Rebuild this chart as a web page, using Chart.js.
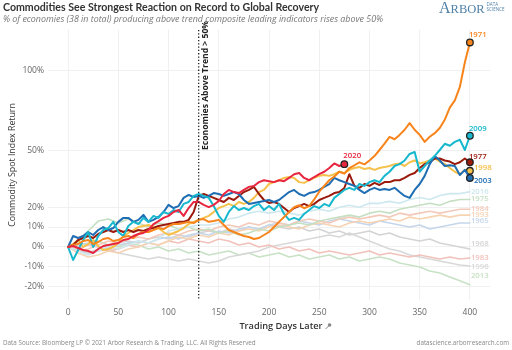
<!DOCTYPE html>
<html>
<head>
<meta charset="utf-8">
<script src="https://cdn.jsdelivr.net/npm/chart.js@4.4.1/dist/chart.umd.min.js"></script>
<style>
  html, body { margin: 0; padding: 0; background: #fff; }
  #wrap { width: 512px; height: 350px; }
</style>
</head>
<body>
<div id="wrap"><canvas id="chart" width="512" height="350"></canvas></div>
<script>
// ---- data (returns in %) ----
const titleText = "Commodities See Strongest Reaction on Record to Global Recovery";
const subtitleText = "% of economies (38 in total) producing above trend composite leading indicators rises above 50%";
const footLeft = "Data Source: Bloomberg LP \u00a9 2021 Arbor Research & Trading, LLC. All Rights Reserved";
const footRight = "datascience.arborresearch.com";
const xTitle = "Trading Days Later";
const yTitle = "Commodity Spot Index Return";
const eventLabel = "Economies Above Trend > 50%";
const eventDay = 130;

const xTicks = [0, 50, 100, 150, 200, 250, 300, 350, 400];
const yTickPct = [-20, -10, 0, 10, 20, 50, 100];
const yMinPct = -26.8, yMaxPct = 131;

// highlighted years, one value every 5 trading days
const r1971 = [0,1,1.5,3,3.5,1.5,2.5,4,4.5,3, 3.5,5,5.5,4.5,6.5,7.5,7.5,8.5,9.5,9,
  10.5,11.5,11.5,12,12.6,12,13.6,14,12.6,13, 13.6,11,8.5,7.5,6.5,5.5,5,4,4.5,6,
  7.5,10,12.6,15,17.6,20,21,19.5,20.6,24, 28,31,34,36,38.5,37.5,40.5,42,43.6,42.5,
  44.6,47,50.4,54,57.9,56.5,59,62,66,62, 59,55,57.9,60,63,68,75.4,80,88.8,106, 121];
const r2009 = [0,-6.5,-1.5,3.5,7.5,0,5.5,8.5,9.5,12.6, 7.5,5.5,10.5,12.6,11.5,14.6,12.6,15.6,14.6,17.6,
  16.6,18.6,17.6,21.7,22.7,25.8,26.8,25.8,24.8,20.6, 15.6,12.6,17.6,20.6,18.6,19.6,18.6,20.6,21.7,18.6,
  20.6,18.6,21.7,16.6,13.6,14.6,13.6,16.6,18.6,20.6, 19.6,21.7,20.6,24.8,26.8,28.9,30,28.9,32,31,
  33,34,33,36.3,38.5,41.6,42.6,44.6,48.2,49.3, 38.5,41.6,44.6,47.1,50.4,53.9,52.8,55,56.2,50.4, 58.5];
const r1977 = [0,1,3.5,4.5,5.5,4.5,6.5,7.5,8.5,7.5, 8.5,7.5,8.5,7.5,8.5,8,9,9.5,10.5,11,
  11.5,12,12.6,12.6,13.6,17.6,25.8,26.8,25.8,24.8, 23.7,22.7,24.8,23.7,25.8,27.8,28.9,30.5,26.8,23.7,
  22.2,22.7,21.7,19.6,17.6,19.6,20.6,21.7,20.6,21.7, 23.7,24.8,25.8,27.3,27.8,29.9,37.2,31,30,32,
  31,32.6,31.5,33,33,34,34,35.2,36.8,37.8, 40.5,42.6,43.6,45.7,45.7,44.6,44,42.6,43.6,45.7, 43.6];
const r1998 = [0,1.5,3.5,0,1.5,3.5,0.5,-1.5,-1,0, 2,5.5,7,8.5,10,10.5,11,10,9.5,7.5,
  6,7,8,9.5,11.5,12.6,13.6,14.6,15.6,17.6, 19.6,20.6,21.7,20.6,22.7,21.7,22.7,24.8,27.8,28.9,
  32,33,34,35.2,35.7,35.2,33,32.6,34,35.2, 36.3,36.8,36.3,37.2,38.5,37.8,39.5,40.5,41,40,
  40.5,39.5,40.5,41,41.6,42.6,43,41.6,43.6,44.6, 43,43.6,44.6,45.7,44,42.6,40.5,38.5,37.2,39.5, 39];
const r2003 = [0,5.5,4.5,5.5,7.5,6,8.5,10,8.5,9.5, 12.6,14.6,14.6,12.6,13.6,16.1,12.6,13.6,15.1,17.6,
  21.2,19.6,20.6,24.8,26.3,25.3,25.8,24.8,25.8,27.3, 26.8,25.8,26.8,27.8,26.8,23.7,21.7,22.2,22.7,23.2,
  23.7,22.7,23.7,25.8,27.8,28.9,26.8,25.8,27.3,27.8, 28.9,30.5,32,35.2,34,33,32,31,28.9,27.3,
  28.9,30,28.9,29.4,28.9,30,27.8,25.8,24.8,28.9, 32,36.3,42.6,47.1,44.6,41.6,42,41.6,36.8,39.5, 35.2];
const r2020 = [0,0.5,-0.5,-1.5,-2,-3,-1,0.5,1,1.5, 2,3.5,4,5.5,6.5,7,8.5,11.5,13,14.6,
  15.6,17.6,18.6,15.6,19.6,22.7,22.7,21.2,20.1,21.2, 23.2,26.8,28.9,27.8,27.3,28.9,30.5,31,33,34,
  33.5,33,34,33.5,35.2,37.2,37.8,35.2,34,35.7, 37.2,38.5,40.5,43,41.6,42.6];

// background years, one value every 10 trading days
const f2016 = [0,-2,-4,-2,0,-1,1,3,2,4, 8,9,10,11,11,12,14,15,17,18, 17,18,17,16,18,19,18,20,21,20, 22,22,23,22,24,25,24,26,27,27, 28];
const f1975 = [0,3,8,13,14,12,14,12,10,12, 11,9,10,8,9,7,8,6,7,9, 8,10,11,12,11,13,14,15,16,15, 17,18,17,19,20,21,22,21,23,24, 24];
const f1984 = [0,-2,-1,1,3,2,4,5,4,6, 7,6,8,9,8,10,11,10,12,11, 13,12,11,13,14,13,12,14,15,14, 15,16,15,17,16,17,18,17,18,19, 19];
const f1993 = [0,-3,-5,-4,-2,-3,-1,0,2,1, 3,5,4,6,5,7,6,8,9,8, 10,11,10,9,11,12,11,10,12,13, 12,13,14,13,15,14,15,16,15,16, 16];
const f1965 = [0,1,2,0,-1,1,2,3,2,4, 5,4,6,7,6,8,7,9,10,9, 11,12,11,13,12,11,13,14,13,12, 11,13,12,11,10,11,9,10,11,12, 12];
const f1968 = [0,-2,-3,-1,1,2,3,2,4,5, 4,6,5,7,8,7,9,8,10,9, 11,10,9,10,8,9,7,8,6,7, 8,6,7,5,4,3,4,2,1,0, -1];
const f1983 = [0,-1,1,0,-2,-1,1,0,2,1, 3,2,4,3,2,4,3,1,2,0, 1,-1,0,-2,-1,-3,-2,-3,-4,-3, -2,-4,-3,-4,-5,-4,-5,-6,-5,-6, -5.5];
const f1996 = [0,-1,-3,-2,-1,-3,-4,-5,-6,-5, -6,-7,-6,-7,-8,-7,-5,-4,-3,-2, 0,1,2,3,4,5,6,5,7,5, 3,1,-1,-2,-4,-5,-6,-7,-8,-9, -9.5];
const f2013 = [0,2,1,3,1,0,2,1,-1,0, -2,-1,-3,-2,-4,-3,-2,-4,-3,-5, -4,-3,-5,-4,-6,-5,-4,-6,-5,-7, -6,-5,-6,-8,-9,-10,-12,-13,-15,-17, -19];

// ---- styling ----
const FONT = '"Open Sans", "DejaVu Sans", sans-serif';
const highlight = [
  { year: '2020', vals: r2020, color: '#e8263f', dx: -1, dy: -8, align: 'left' },
  { year: '1971', vals: r1971, color: '#f8841c', dx: -1, dy: -8, align: 'left' },
  { year: '2009', vals: r2009, color: '#17b8ce', dx: -1, dy: -7, align: 'left' },
  { year: '2003', vals: r2003, color: '#1f6db3', dx: 4, dy: 3, align: 'left' },
  { year: '1977', vals: r1977, color: '#9a1a0c', dx: -1, dy: -6, align: 'left' },
  { year: '1998', vals: r1998, color: '#f6c14a', dx: 4, dy: -3, align: 'left' }
];
const faded = [
  { year: '2016', vals: f2016, color: '#cde8ee', dy: 0 },
  { year: '1975', vals: f1975, color: '#c4dfc2', dy: -1 },
  { year: '1984', vals: f1984, color: '#f3c9ba', dy: 0 },
  { year: '1993', vals: f1993, color: '#f5d3b3', dy: 0 },
  { year: '1965', vals: f1965, color: '#c5d6eb', dy: -2 },
  { year: '1968', vals: f1968, color: '#d4d4d4', dy: -5 },
  { year: '1983', vals: f1983, color: '#f0c2bb', dy: 0 },
  { year: '1996', vals: f1996, color: '#d8d8d8', dy: 1 },
  { year: '2013', vals: f2013, color: '#c8e2c5', dy: -9 }
];

const tf = p => Math.asinh(p / 100);   // the reference uses a compressed (asinh) return axis
const toPoints = (vals, step) => vals.map((v, i) => ({ x: i * step, y: tf(v) }));

const datasets = [];
highlight.forEach(s => {
  const n = s.vals.length;
  datasets.push({
    label: s.year, data: toPoints(s.vals, 5),
    borderColor: s.color, backgroundColor: s.color, borderWidth: 2,
    pointRadius: c => c.dataIndex === n - 1 ? 3.3 : 0,
    pointBorderColor: '#222', pointBorderWidth: 1.3, pointBackgroundColor: s.color,
    lbl: s
  });
});
faded.forEach(s => {
  datasets.push({
    label: s.year, data: toPoints(s.vals, 10),
    borderColor: s.color, borderWidth: 1.6, pointRadius: 0,
    lbl: Object.assign({ dx: 1, align: 'left' }, s)
  });
});

const overlay = {
  id: 'overlay',
  afterDatasetsDraw(chart) {
    const { ctx, chartArea, scales: { x } } = chart;
    const ex = x.getPixelForValue(eventDay);
    ctx.save();
    ctx.strokeStyle = '#222';
    ctx.lineWidth = 1.3;
    ctx.setLineDash([1.3, 2]);
    ctx.beginPath();
    ctx.moveTo(ex, chartArea.top);
    ctx.lineTo(ex, chartArea.bottom);
    ctx.stroke();
    ctx.setLineDash([]);
    ctx.translate(ex + 6.5, 150);
    ctx.rotate(-Math.PI / 2);
    ctx.font = 'bold 8.6px ' + FONT;
    ctx.fillStyle = '#222';
    ctx.textAlign = 'left';
    ctx.textBaseline = 'middle';
    ctx.fillText(eventLabel, 0, 0);
    ctx.restore();

    // year labels at line ends
    ctx.save();
    ctx.textBaseline = 'middle';
    chart.data.datasets.forEach((ds, i) => {
      const meta = chart.getDatasetMeta(i);
      const last = meta.data[meta.data.length - 1];
      const l = ds.lbl;
      ctx.font = '600 7.8px ' + FONT;
      ctx.fillStyle = l.color;
      ctx.textAlign = l.align;
      ctx.fillText(l.year, last.x + l.dx, last.y + l.dy);
    });
    ctx.restore();
  },
  afterDraw(chart) {
    const { ctx, chartArea } = chart;
    ctx.save();
    ctx.textBaseline = 'middle';
    ctx.textAlign = 'left';
    ctx.fillStyle = '#333';
    ctx.font = 'bold 10.6px Lato, ' + FONT;
    ctx.fillText(titleText, 3, 8);
    ctx.fillStyle = '#777';
    ctx.font = 'italic 8.9px ' + FONT;
    ctx.fillText(subtitleText, 3, 19);

    // logo
    ctx.fillStyle = '#4f80a6';
    ctx.font = '16px "Liberation Serif", serif';
    ctx.textBaseline = 'alphabetic';
    ctx.fillText('A', 439, 13);
    const aw = ctx.measureText('A').width;
    ctx.font = '12.5px "Liberation Serif", serif';
    ctx.fillText('RBOR', 439 + aw, 13);
    const rw = ctx.measureText('RBOR').width;
    ctx.font = '4.5px ' + FONT;
    ctx.fillText('DATA', 441 + aw + rw, 6);
    ctx.fillText('SCIENCE', 441 + aw + rw, 11);

    // axis titles
    ctx.textBaseline = 'middle';
    ctx.fillStyle = '#333';
    ctx.font = '600 9.2px ' + FONT;
    ctx.textAlign = 'center';
    const cx = (chartArea.left + chartArea.right) / 2 + 12;
    ctx.fillText(xTitle, cx, 326);
    const tw = ctx.measureText(xTitle).width;
    // small pin icon after the x title
    const px = cx + tw / 2 + 5, py = 326;
    ctx.strokeStyle = '#888';
    ctx.lineWidth = 1;
    ctx.beginPath();
    ctx.moveTo(px - 2, py + 3);
    ctx.lineTo(px + 1, py);
    ctx.stroke();
    ctx.fillStyle = '#888';
    ctx.beginPath();
    ctx.arc(px + 2, py - 1, 1.8, 0, Math.PI * 2);
    ctx.fill();

    ctx.fillStyle = '#333';
    ctx.font = '8.8px ' + FONT;
    ctx.translate(12, (chartArea.top + chartArea.bottom) / 2);
    ctx.rotate(-Math.PI / 2);
    ctx.fillText(yTitle, 0, 0);
    ctx.setTransform(1, 0, 0, 1, 0, 0);

    // footer
    ctx.fillStyle = '#888';
    ctx.font = '6.3px ' + FONT;
    ctx.textAlign = 'left';
    ctx.fillText(footLeft, 3, 343);
    ctx.textAlign = 'right';
    ctx.fillText(footRight, 509, 343);
    ctx.restore();
  }
};

Chart.defaults.font.family = FONT;

new Chart(document.getElementById('chart').getContext('2d'), {
  type: 'line',
  data: { datasets: datasets },
  options: {
    responsive: false,
    animation: false,
    layout: { padding: { top: 30, right: 22, bottom: 0, left: 0 } },
    elements: { line: { tension: 0, borderJoinStyle: 'round', borderCapStyle: 'round' } },
    plugins: { legend: { display: false }, tooltip: { enabled: false } },
    scales: {
      x: {
        type: 'linear', min: -20, max: 420,
        afterBuildTicks: s => { s.ticks = xTicks.map(v => ({ value: v })); },
        afterFit: s => { s.height = 50; },
        grid: { color: '#f0f0f0', drawTicks: false },
        border: { display: false },
        ticks: { padding: 7, color: '#666', font: { size: 8.5 }, maxRotation: 0 }
      },
      y: {
        type: 'linear', min: tf(yMinPct), max: tf(yMaxPct),
        afterBuildTicks: s => { s.ticks = yTickPct.map(p => ({ value: tf(p) })); },
        afterFit: s => { s.width = 48; },
        grid: { color: '#f0f0f0', drawTicks: false },
        border: { display: false },
        ticks: {
          padding: 4, color: '#666', font: { size: 8.5 },
          callback: v => Math.round(Math.sinh(v) * 100) + '%'
        }
      }
    }
  },
  plugins: [overlay]
});
</script>
</body>
</html>
